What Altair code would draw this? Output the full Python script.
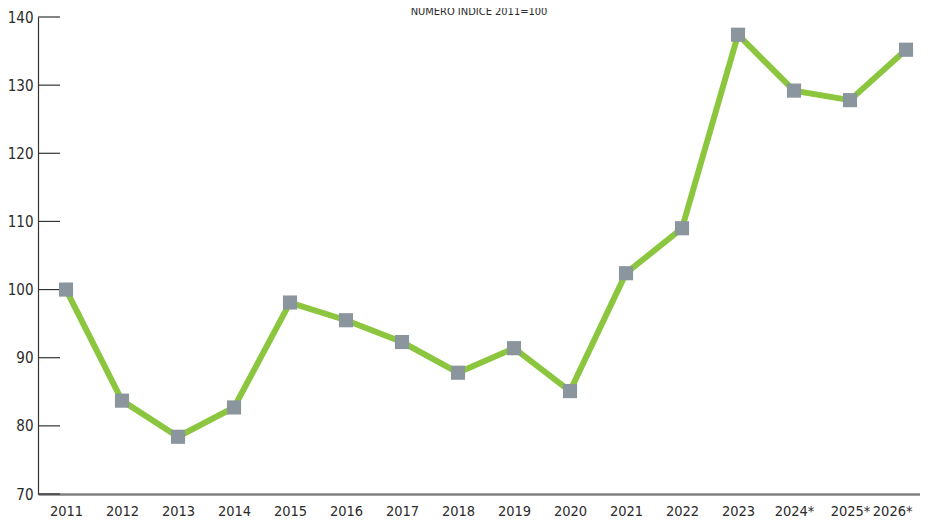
import altair as alt
import pandas as pd

years = ["2011", "2012", "2013", "2014", "2015", "2016", "2017", "2018",
         "2019", "2020", "2021", "2022", "2023", "2024*", "2025*", "2026*"]
values = [100.0, 83.7, 78.4, 82.7, 98.1, 95.5, 92.3, 87.8,
          91.4, 85.1, 102.4, 109.0, 137.4, 129.2, 127.8, 135.2]
y_ticks = [70, 80, 90, 100, 110, 120, 130, 140]

FONT = "DejaVu Sans Condensed, Liberation Sans Narrow, sans-serif"

df = pd.DataFrame({"year": years, "value": values})
ticks_df = pd.DataFrame({"v": y_ticks})

x_scale = alt.Scale(type="point", padding=0.375, align=0.667)
y_scale = alt.Scale(domain=[70, 140], nice=False, zero=False)

last = years[-1]
x_enc = alt.X("year:N", sort=years, scale=x_scale,
              axis=alt.Axis(title=None, labelAngle=0, tickSize=0, domainColor="#808080",
                            domainWidth=2.5, labelPadding=10, labelFontSize=14.5,
                            labelColor="#2b2b2b", labelFont=FONT, grid=False,
                            labelAlign=alt.ExprRef(f"datum.label == '{last}' ? 'right' : 'center'"),
                            labelOffset=alt.ExprRef(f"datum.label == '{last}' ? 6 : 0")))

line = alt.Chart(df).mark_line(color="#8CC63F", strokeWidth=6).encode(
    x=x_enc,
    y=alt.Y("value:Q", scale=y_scale,
            axis=alt.Axis(title=None, values=y_ticks, tickSize=0, grid=False,
                          domainColor="#333333", domainWidth=1.2, labelPadding=5,
                          labelFontSize=15, labelColor="#2b2b2b", labelFont=FONT)),
)
points = alt.Chart(df).mark_square(color="#8A959E", opacity=1, size=200).encode(
    x=alt.X("year:N", sort=years, scale=x_scale),
    y=alt.Y("value:Q", scale=y_scale),
)
tick_rules = alt.Chart(ticks_df).mark_rule(color="#333333", strokeWidth=1.2).encode(
    x=alt.value(0), x2=alt.value(22),
    y=alt.Y("v:Q", scale=y_scale),
)

chart = alt.layer(line, tick_rules, points).properties(
    width=882, height=477,
    background="white",
    autosize=alt.AutoSizeParams(type="none"),
    padding={"left": 30, "top": 9, "right": 0, "bottom": 30},
    title=alt.TitleParams("NUMERO INDICE 2011=100", fontSize=11, font=FONT,
                          fontWeight="normal", color="#2b2b2b", anchor="middle",
                          baseline="alphabetic", offset=1, dy=17),
).configure_view(stroke=None, strokeWidth=0).configure_axis(grid=False)

chart.save("out.html", embed_options={"renderer": "svg", "actions": False})
